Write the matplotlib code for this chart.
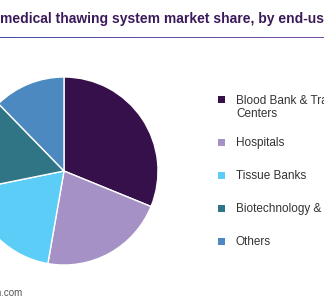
import numpy as np
import matplotlib
matplotlib.use("Agg")
import matplotlib.pyplot as plt
from matplotlib.patches import Rectangle
from matplotlib.colors import LinearSegmentedColormap

categories = ["Blood Bank & Transfusion\nCenters", "Hospitals", "Tissue Banks",
              "Biotechnology & Pharmaceutical Companies", "Others"]
shares = [31.2, 21.6, 19.1, 15.9, 12.3]
colors = ["#36104a", "#a591c5", "#5bcdf6", "#2f7585", "#4c89c0"]
title = "medical thawing system market share, by end-use, 2020 (%)"
source = "Source: www.grandviewresearch.com"

W, H = 324, 300
fig = plt.figure(figsize=(W / 100, H / 100), dpi=100)
plt.rcParams['font.family'] = ['Liberation Sans', 'DejaVu Sans']

def fx(px):
    return px / W

def fy(py):
    return 1 - py / H

# Title
fig.text(fx(0), fy(23.5), title, fontsize=10, fontweight='bold', color='#3b1a5a',
         ha='left', va='baseline')

# Gradient rule under title
lax = fig.add_axes([0, fy(38.5), 1, 2 / H])
grad = np.linspace(0, 1, 256).reshape(1, -1)
cmap = LinearSegmentedColormap.from_list('g', ['#4550a8', '#7a4fa6'])
lax.imshow(grad, aspect='auto', cmap=cmap, extent=[0, 1, 0, 1])
lax.set_axis_off()

# Pie
cx, cy, r = 64, 171, 94
pax = fig.add_axes([fx(cx - r), fy(cy + r), 2 * r / W, 2 * r / H])
pax.pie(shares, colors=colors, startangle=90, counterclock=False, radius=1,
        wedgeprops=dict(edgecolor='white', linewidth=1.0))
pax.set_xlim(-1, 1)
pax.set_ylim(-1, 1)
pax.set_aspect('equal')
pax.set_axis_off()

# Legend (manual)
y = 99
for lab, col in zip(categories, colors):
    s = 7
    nlines = lab.count('\n') + 1
    fig.patches.append(Rectangle((fx(221 - s / 2), fy(y + s / 2)), s / W, s / H,
                                 transform=fig.transFigure, facecolor=col,
                                 edgecolor='none'))
    fig.text(fx(236), fy(y + 4.3 + 14 * (nlines - 1)), lab, fontsize=8.5,
             color='#333333', ha='left', va='baseline', linespacing=1.18,
             transform=fig.transFigure)
    y += 33 + 10 * (nlines - 1)

# Source
fig.text(fx(22), fy(296), source, fontsize=7, color='#555555', ha='right',
         va='baseline')

fig.savefig("out.png", dpi=100)
